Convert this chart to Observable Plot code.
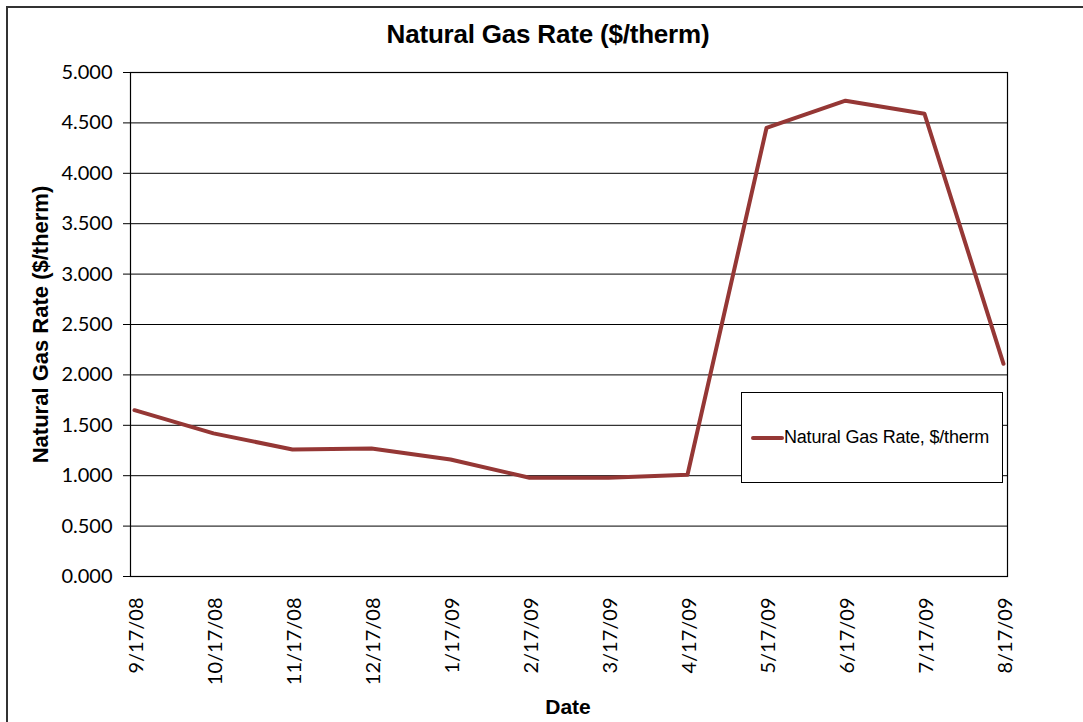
<!DOCTYPE html>
<html>
<head>
<meta charset="utf-8">
<script src="https://cdn.jsdelivr.net/npm/d3@7"></script>
<script src="https://cdn.jsdelivr.net/npm/@observablehq/plot@0.6"></script>
<style>
  html, body { margin: 0; padding: 0; background: #fff; overflow: hidden; }
  #wrap { position: relative; width: 1083px; height: 722px; overflow: hidden; }
  #border { position: absolute; left: 6px; top: 6px; width: 1200px; height: 800px; border-top: 2px solid #333; border-left: 2px solid #333; }
  #title { position: absolute; left: 0; top: 19px; width: 1096px; text-align: center; font: bold 26px "Liberation Sans", Arial, sans-serif; letter-spacing: -0.2px; color: #000; }
  #chart { position: absolute; left: 0; top: 0; }
  #legend { position: absolute; left: 741px; top: 392px; width: 262px; height: 91px; border: 1px solid #000; background: #fff; box-sizing: border-box; }
  #legend .sw { position: absolute; left: 9px; top: 43px; width: 33px; height: 4px; background: #953735; border-radius: 2px; }
  #legend .lb { position: absolute; left: 42px; top: 34px; font: 18px "Liberation Sans", Arial, sans-serif; letter-spacing: -0.2px; color: #000; white-space: nowrap; }
</style>
</head>
<body>
<div id="wrap">
  <div id="border"></div>
  <div id="chart"></div>
  <div id="title">Natural Gas Rate ($/therm)</div>
  <div id="legend"><div class="sw"></div><div class="lb">Natural Gas Rate, $/therm</div></div>
</div>
<script>
const dates = ["9/17/08","10/17/08","11/17/08","12/17/08","1/17/09","2/17/09","3/17/09","4/17/09","5/17/09","6/17/09","7/17/09","8/17/09"];
const rates = [1.65, 1.42, 1.26, 1.27, 1.16, 0.98, 0.98, 1.01, 4.45, 4.72, 4.59, 2.11];
const yTicks = [0, 0.5, 1, 1.5, 2, 2.5, 3, 3.5, 4, 4.5, 5];
const seriesName = "Natural Gas Rate, $/therm";

const data = dates.map((d, i) => ({date: d, rate: rates[i]}));

const chart = Plot.plot({
  width: 1083,
  height: 722,
  marginLeft: 130,
  marginRight: 76,
  marginTop: 72,
  marginBottom: 146,
  style: {fontFamily: "Lato, 'Open Sans', sans-serif", fontSize: "20px", color: "#000", background: "transparent", overflow: "visible"},
  x: {type: "point", domain: dates, padding: 0, label: null},
  y: {domain: [0, 5], label: null},
  marks: [
    Plot.ruleY(yTicks, {stroke: "#000", strokeWidth: 1}),
    Plot.frame({stroke: "#000", strokeWidth: 1.2}),
    Plot.axisY(yTicks, {tickFormat: d3.format(".3f"), tickSize: 7, tickPadding: 11, stroke: "#000", fontSize: 20}),
    Plot.axisX({tickSize: 0, tickRotate: -90, tickPadding: 21, fontSize: 20, dx: 2}),
    Plot.text(["Natural Gas Rate ($/therm)"], {frameAnchor: "left", textAnchor: "middle", dx: -90, rotate: -90, fontWeight: "bold", fontSize: 22, fontFamily: "'Liberation Sans', Arial, sans-serif", letterSpacing: "-0.2px"}),
    Plot.text(["Date"], {frameAnchor: "bottom", dy: 137, fontWeight: "bold", fontSize: 21, fontFamily: "'Liberation Sans', Arial, sans-serif", dx: -1}),
    Plot.line(data, {x: "date", y: "rate", stroke: "#953735", strokeWidth: 4, strokeLinejoin: "round", title: () => seriesName})
  ]
});
document.getElementById("chart").appendChild(chart);
</script>
</body>
</html>
